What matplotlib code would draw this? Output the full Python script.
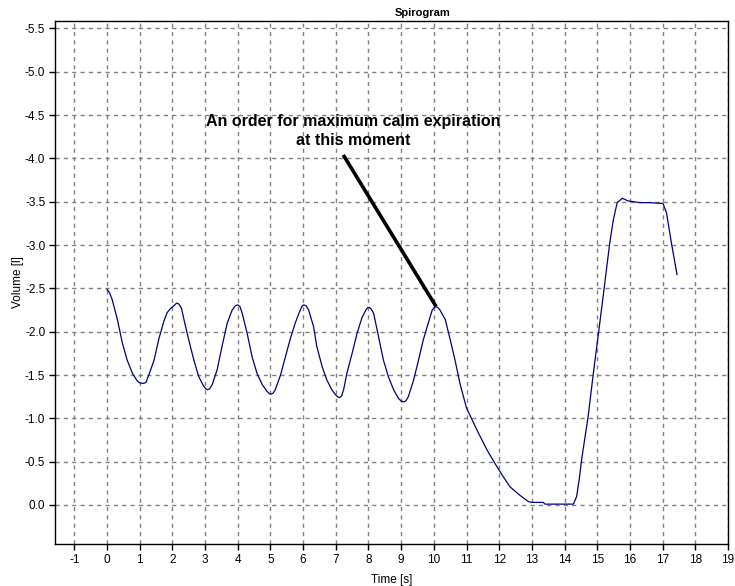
import matplotlib
matplotlib.use("Agg")
import matplotlib.pyplot as plt
from matplotlib.ticker import FormatStrFormatter

time_s = [0.0, 0.08, 0.16, 0.32, 0.47, 0.62, 0.78, 0.93, 1.0, 1.08, 1.14, 1.2, 1.28, 1.44, 1.59, 1.74, 1.84, 1.95, 2.05, 2.13, 2.2,
          2.28, 2.38, 2.5, 2.66, 2.81, 2.96, 3.03, 3.08, 3.14, 3.22, 3.37, 3.52, 3.68, 3.83, 3.93, 4.0, 4.07,
          4.14, 4.29, 4.44, 4.59, 4.75, 4.9, 4.97, 5.02, 5.08, 5.15, 5.31, 5.46, 5.61, 5.76, 5.89, 5.96, 6.02, 6.09,
          6.17, 6.32, 6.42, 6.58, 6.73, 6.88, 7.0, 7.07, 7.12, 7.18, 7.24, 7.34, 7.5, 7.65, 7.8, 7.92, 7.98, 8.03, 8.09,
          8.16, 8.31, 8.46, 8.61, 8.77, 8.92, 9.0, 9.07, 9.14, 9.22, 9.38, 9.53, 9.68, 9.83, 9.95, 10.04, 10.12,
          10.19, 10.35, 10.5, 10.65, 10.8, 11.0, 11.3, 11.62, 11.87, 12.1, 12.33, 12.64, 12.89, 13.0,
          13.35, 13.4, 14.27, 14.37, 14.45, 14.52, 14.72, 14.88, 15.05, 15.21, 15.38, 15.49, 15.61,
          15.77, 15.94, 16.3, 16.6, 17.01, 17.12, 17.27, 17.44]
volume_l = [-2.49, -2.45, -2.37, -2.14, -1.87, -1.67, -1.52, -1.43, -1.41, -1.405, -1.405, -1.42, -1.5, -1.67, -1.92, -2.12, -2.22, -2.27, -2.30, -2.33, -2.32,
            -2.27, -2.1, -1.91, -1.67, -1.48, -1.37, -1.34, -1.33, -1.34, -1.39, -1.56, -1.83, -2.1, -2.25, -2.3, -2.31, -2.29,
            -2.21, -1.98, -1.71, -1.52, -1.39, -1.31, -1.285, -1.28, -1.29, -1.33, -1.5, -1.71, -1.92, -2.1, -2.23, -2.29, -2.31, -2.3,
            -2.25, -2.06, -1.83, -1.6, -1.44, -1.33, -1.27, -1.245, -1.24, -1.26, -1.33, -1.52, -1.75, -1.98, -2.16, -2.25, -2.28, -2.28, -2.26,
            -2.21, -1.94, -1.67, -1.48, -1.33, -1.23, -1.2, -1.19, -1.2, -1.25, -1.44, -1.67, -1.91, -2.1, -2.25, -2.29, -2.28,
            -2.25, -2.14, -1.91, -1.67, -1.4, -1.12, -0.88, -0.64, -0.48, -0.34, -0.21, -0.11, -0.04, -0.03,
            -0.03, -0.01, -0.01, -0.1, -0.3, -0.52, -1.02, -1.52, -2.02, -2.5, -3.02, -3.29, -3.49,
            -3.54, -3.51, -3.49, -3.49, -3.48, -3.37, -3.02, -2.66]

x_ticks = list(range(-1, 20))
y_ticks = [-5.5, -5.0, -4.5, -4.0, -3.5, -3.0, -2.5, -2.0, -1.5, -1.0, -0.5, 0.0]
title = "Spirogram"
x_label = "Time [s]"
y_label = "Volume [l]"
note = "An order for maximum calm expiration\nat this moment"
note_tip = (10.07, -2.29)
note_tail = (7.23, -4.04)

plt.rcParams['font.family'] = ['Liberation Sans', 'DejaVu Sans']
plt.rcParams['axes.unicode_minus'] = False

fig = plt.figure(figsize=(7.35, 5.86), dpi=100)
ax = fig.add_axes([0.0748, 0.0717, 0.9157, 0.893])

ax.plot(time_s, volume_l, color='#000080', lw=0.9, zorder=3)

ax.set_xlim(-1.59, 19.0)
ax.set_ylim(0.45, -5.59)
ax.set_xticks(x_ticks)
ax.set_yticks(y_ticks)
ax.yaxis.set_major_formatter(FormatStrFormatter('%.1f'))
ax.grid(True, color='#808080', linestyle=(0, (3, 3)), lw=1.0)
ax.set_axisbelow(True)
ax.tick_params(direction='out', length=4, width=1, labelsize=8.5, color='black', pad=3)
for s in ax.spines.values():
    s.set_linewidth(1.0)
    s.set_color('black')

fig.text(423 / 735, 1 - 13 / 586, title, fontsize=8, fontweight='bold', ha='center', va='center')
ax.set_xlabel(x_label, fontsize=8.5, labelpad=6)
ax.set_ylabel(y_label, fontsize=8.5)
ax.yaxis.set_label_coords(-0.046, 0.5)

ax.plot([note_tail[0], note_tip[0]], [note_tail[1], note_tip[1]], color='black', lw=2.6,
        solid_capstyle='butt', zorder=4)
ax.text(7.53, -4.32, note, ha='center', va='center', fontsize=11.5, fontweight='bold',
        linespacing=1.3, zorder=5)

fig.savefig('out.png', dpi=100)
